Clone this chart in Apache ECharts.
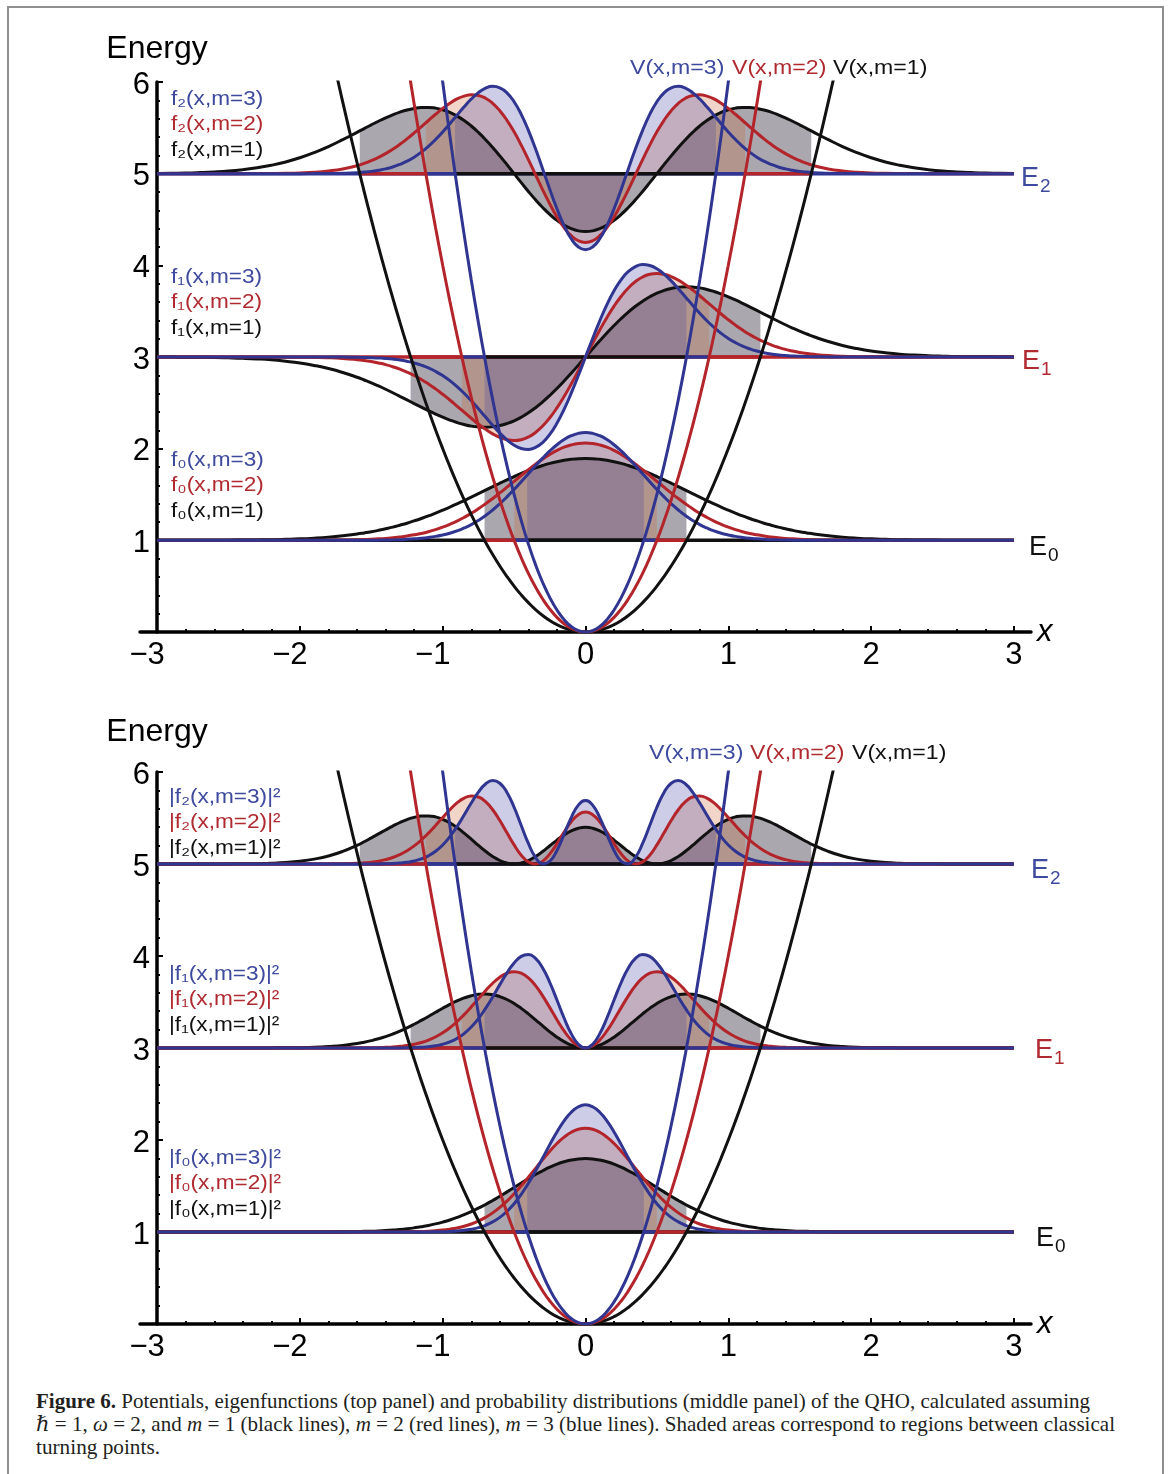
<!DOCTYPE html>
<html>
<head>
<meta charset="utf-8">
<title>QHO potentials and eigenfunctions</title>
<script src="https://cdn.jsdelivr.net/npm/echarts/dist/echarts.min.js"></script>
<style>
  body { margin: 0; background: #fff; }
  .frame { position: absolute; left: 7px; top: 6px; width: 1153px; height: 1500px;
           border: 2px solid #8f8f8f; border-bottom: none; }
  #chart { position: absolute; left: 0; top: 0; width: 1170px; height: 1380px; }
  .caption { position: absolute; left: 36px; top: 1390px; color: #231f20;
             font-family: "Liberation Serif", "DejaVu Serif", serif; font-size: 21px; line-height: 23px; }
  .ln { white-space: nowrap; height: 23px; }
  .ln span { display: inline-block; transform-origin: 0 50%; }
</style>
</head>
<body>
<div class="frame"></div>
<div id="chart"></div>
<div class="caption">
  <div class="ln" data-w="1054"><span><b>Figure 6.</b> Potentials, eigenfunctions (top panel) and probability distributions (middle panel) of the QHO, calculated assuming</span></div>
  <div class="ln" data-w="1079"><span><i>ℏ</i> = 1, <i>ω</i> = 2, and <i>m</i> = 1 (black lines), <i>m</i> = 2 (red lines), <i>m</i> = 3 (blue lines). Shaded areas correspond to regions between classical</span></div>
  <div class="ln" data-w="124"><span>turning points.</span></div>
</div>
<script>
// x grid shared by every curve (finer in the middle where the curves bend)
var xs = [-3,-2.9,-2.8,-2.7,-2.6,-2.5,-2.4,-2.3,-2.2,-2.1,-2,-1.9,-1.8,-1.7,
  -1.6,-1.55,-1.5,-1.45,-1.4,-1.35,-1.3,-1.25,-1.2,-1.15,-1.1,-1.05,-1,-0.95,-0.9,-0.85,
  -0.8,-0.75,-0.7,-0.65,-0.6,-0.55,-0.5,-0.45,-0.4,-0.35,-0.3,-0.25,-0.2,-0.15,-0.1,-0.05,
  0,
  0.05,0.1,0.15,0.2,0.25,0.3,0.35,0.4,0.45,0.5,0.55,0.6,0.65,0.7,0.75,0.8,
  0.85,0.9,0.95,1,1.05,1.1,1.15,1.2,1.25,1.3,1.35,1.4,1.45,1.5,1.55,1.6,
  1.7,1.8,1.9,2,2.1,2.2,2.3,2.4,2.5,2.6,2.7,2.8,2.9,3];

var levels = [1, 3, 5];          // E0, E1, E2
var xTicks = [-3, -2, -1, 0, 1, 2, 3];
var yTicks = [1, 2, 3, 4, 5, 6];

// potentials V(x,m), null where far off the plot
var V1 = [null,null,null,null,null,null,null,null,null,null,null,7.22,6.48,5.78,
  5.12,4.805,4.5,4.205,3.92,3.645,3.38,3.125,2.88,2.645,2.42,2.205,2,1.805,1.62,1.445,
  1.28,1.125,0.98,0.845,0.72,0.605,0.5,0.405,0.32,0.245,0.18,0.125,0.08,0.045,0.02,0.005,
  0,
  0.005,0.02,0.045,0.08,0.125,0.18,0.245,0.32,0.405,0.5,0.605,0.72,0.845,0.98,1.125,1.28,
  1.445,1.62,1.805,2,2.205,2.42,2.645,2.88,3.125,3.38,3.645,3.92,4.205,4.5,4.805,5.12,
  5.78,6.48,7.22,null,null,null,null,null,null,null,null,null,null,null];
var V2 = [null,null,null,null,null,null,null,null,null,null,null,null,null,null,
  null,null,null,null,7.84,7.29,6.76,6.25,5.76,5.29,4.84,4.41,4,3.61,3.24,2.89,
  2.56,2.25,1.96,1.69,1.44,1.21,1,0.81,0.64,0.49,0.36,0.25,0.16,0.09,0.04,0.01,
  0,
  0.01,0.04,0.09,0.16,0.25,0.36,0.49,0.64,0.81,1,1.21,1.44,1.69,1.96,2.25,2.56,
  2.89,3.24,3.61,4,4.41,4.84,5.29,5.76,6.25,6.76,7.29,7.84,null,null,null,null,
  null,null,null,null,null,null,null,null,null,null,null,null,null,null];
var V3 = [null,null,null,null,null,null,null,null,null,null,null,null,null,null,
  null,null,null,null,null,null,null,null,8.64,7.935,7.26,6.615,6,5.415,4.86,4.335,
  3.84,3.375,2.94,2.535,2.16,1.815,1.5,1.215,0.96,0.735,0.54,0.375,0.24,0.135,0.06,0.015,
  0,
  0.015,0.06,0.135,0.24,0.375,0.54,0.735,0.96,1.215,1.5,1.815,2.16,2.535,2.94,3.375,3.84,
  4.335,4.86,5.415,6,6.615,7.26,7.935,8.64,null,null,null,null,null,null,null,null,
  null,null,null,null,null,null,null,null,null,null,null,null,null,null];

// eigenfunctions f_n(x,m), offsets above the level E_n
var f0m1 = [0,0,0,0.001,0.001,0.002,0.003,0.005,0.007,0.011,0.016,0.024,0.035,0.050,
  0.069,0.081,0.094,0.109,0.126,0.144,0.165,0.187,0.212,0.238,0.266,0.297,0.329,0.362,0.397,0.434,
  0.471,0.509,0.547,0.585,0.623,0.660,0.696,0.730,0.761,0.790,0.816,0.839,0.858,0.873,0.884,0.891,
  0.893,
  0.891,0.884,0.873,0.858,0.839,0.816,0.790,0.761,0.730,0.696,0.660,0.623,0.585,0.547,0.509,0.471,
  0.434,0.397,0.362,0.329,0.297,0.266,0.238,0.212,0.187,0.165,0.144,0.126,0.109,0.094,0.081,0.069,
  0.050,0.035,0.024,0.016,0.011,0.007,0.005,0.003,0.002,0.001,0.001,0,0,0];
var f0m2 = [0,0,0,0,0,0,0,0,0,0,0,0.001,0.002,0.003,
  0.006,0.009,0.012,0.016,0.021,0.028,0.036,0.047,0.060,0.075,0.094,0.117,0.144,0.175,0.210,0.250,
  0.295,0.345,0.399,0.456,0.517,0.580,0.644,0.709,0.771,0.831,0.887,0.937,0.981,1.016,1.041,1.057,
  1.062,
  1.057,1.041,1.016,0.981,0.937,0.887,0.831,0.771,0.709,0.644,0.580,0.517,0.456,0.399,0.345,0.295,
  0.250,0.210,0.175,0.144,0.117,0.094,0.075,0.060,0.047,0.036,0.028,0.021,0.016,0.012,0.009,0.006,
  0.003,0.002,0.001,0,0,0,0,0,0,0,0,0,0,0];
var f0m3 = [0,0,0,0,0,0,0,0,0,0,0,0,0,0,
  0,0.001,0.001,0.002,0.003,0.005,0.007,0.011,0.016,0.022,0.031,0.043,0.059,0.078,0.103,0.135,
  0.172,0.217,0.270,0.331,0.399,0.474,0.555,0.640,0.727,0.814,0.897,0.975,1.043,1.099,1.141,1.167,
  1.176,
  1.167,1.141,1.099,1.043,0.975,0.897,0.814,0.727,0.640,0.555,0.474,0.399,0.331,0.270,0.217,0.172,
  0.135,0.103,0.078,0.059,0.043,0.031,0.022,0.016,0.011,0.007,0.005,0.003,0.002,0.001,0.001,0,
  0,0,0,0,0,0,0,0,0,0,0,0,0,0];
var f1m1 = [-0.001,-0.001,-0.002,-0.003,-0.005,-0.009,-0.014,-0.021,-0.031,-0.046,-0.065,-0.092,-0.126,-0.169,
  -0.221,-0.251,-0.282,-0.316,-0.352,-0.390,-0.429,-0.468,-0.508,-0.547,-0.586,-0.623,-0.657,-0.688,-0.715,-0.737,
  -0.754,-0.763,-0.766,-0.761,-0.748,-0.726,-0.696,-0.657,-0.609,-0.553,-0.490,-0.420,-0.343,-0.262,-0.177,-0.089,
  0,
  0.089,0.177,0.262,0.343,0.420,0.490,0.553,0.609,0.657,0.696,0.726,0.748,0.761,0.766,0.763,0.754,
  0.737,0.715,0.688,0.657,0.623,0.586,0.547,0.508,0.468,0.429,0.390,0.352,0.316,0.282,0.251,0.221,
  0.169,0.126,0.092,0.065,0.046,0.031,0.021,0.014,0.009,0.005,0.003,0.002,0.001,0.001];
var f1m2 = [0,0,0,0,0,0,0,0,0,-0.001,-0.002,-0.004,-0.008,-0.016,
  -0.029,-0.038,-0.050,-0.065,-0.083,-0.106,-0.133,-0.165,-0.202,-0.245,-0.294,-0.348,-0.407,-0.469,-0.535,-0.602,
  -0.668,-0.732,-0.789,-0.839,-0.877,-0.902,-0.911,-0.902,-0.873,-0.823,-0.753,-0.663,-0.555,-0.431,-0.295,-0.149,
  0,
  0.149,0.295,0.431,0.555,0.663,0.753,0.823,0.873,0.902,0.911,0.902,0.877,0.839,0.789,0.732,0.668,
  0.602,0.535,0.469,0.407,0.348,0.294,0.245,0.202,0.165,0.133,0.106,0.083,0.065,0.050,0.038,0.029,
  0.016,0.008,0.004,0.002,0.001,0,0,0,0,0,0,0,0,0];
var f1m3 = [0,0,0,0,0,0,0,0,0,0,0,0,0,-0.001,
  -0.003,-0.005,-0.007,-0.011,-0.016,-0.023,-0.033,-0.047,-0.065,-0.089,-0.119,-0.157,-0.203,-0.258,-0.323,-0.396,
  -0.478,-0.565,-0.655,-0.745,-0.830,-0.904,-0.962,-0.998,-1.008,-0.987,-0.933,-0.844,-0.722,-0.571,-0.395,-0.202,
  0,
  0.202,0.395,0.571,0.722,0.844,0.933,0.987,1.008,0.998,0.962,0.904,0.830,0.745,0.655,0.565,0.478,
  0.396,0.323,0.258,0.203,0.157,0.119,0.089,0.065,0.047,0.033,0.023,0.016,0.011,0.007,0.005,0.003,
  0.001,0,0,0,0,0,0,0,0,0,0,0,0,0];
var f2m1 = [0.003,0.005,0.007,0.012,0.019,0.029,0.044,0.064,0.092,0.128,0.174,0.230,0.296,0.371,
  0.451,0.492,0.533,0.572,0.609,0.642,0.671,0.695,0.712,0.722,0.723,0.715,0.697,0.669,0.629,0.580,
  0.520,0.450,0.371,0.286,0.194,0.098,0,-0.098,-0.194,-0.285,-0.369,-0.445,-0.510,-0.562,-0.600,-0.624,
  -0.632,
  -0.624,-0.600,-0.562,-0.510,-0.445,-0.369,-0.285,-0.194,-0.098,0,0.098,0.194,0.286,0.371,0.450,0.520,
  0.580,0.629,0.669,0.697,0.715,0.723,0.722,0.712,0.695,0.671,0.642,0.609,0.572,0.533,0.492,0.451,
  0.371,0.296,0.230,0.174,0.128,0.092,0.064,0.044,0.029,0.019,0.012,0.007,0.005,0.003];
var f2m2 = [0,0,0,0,0,0,0,0.001,0.002,0.004,0.008,0.015,0.029,0.051,
  0.087,0.112,0.142,0.177,0.219,0.266,0.320,0.380,0.444,0.511,0.580,0.648,0.712,0.768,0.815,0.846,
  0.860,0.853,0.823,0.768,0.687,0.582,0.456,0.311,0.153,-0.012,-0.176,-0.331,-0.472,-0.589,-0.677,-0.732,
  -0.751,
  -0.732,-0.677,-0.589,-0.472,-0.331,-0.176,-0.012,0.153,0.311,0.456,0.582,0.687,0.768,0.823,0.853,0.860,
  0.846,0.815,0.768,0.712,0.648,0.580,0.511,0.444,0.380,0.320,0.266,0.219,0.177,0.142,0.112,0.087,
  0.051,0.029,0.015,0.008,0.004,0.002,0.001,0,0,0,0,0,0,0];
var f2m3 = [0,0,0,0,0,0,0,0,0,0,0,0.001,0.002,0.005,
  0.011,0.017,0.025,0.037,0.052,0.073,0.101,0.136,0.180,0.234,0.298,0.372,0.455,0.545,0.638,0.730,
  0.814,0.884,0.933,0.953,0.937,0.882,0.785,0.647,0.473,0.271,0.051,-0.172,-0.383,-0.567,-0.710,-0.800,
  -0.831,
  -0.800,-0.710,-0.567,-0.383,-0.172,0.051,0.271,0.473,0.647,0.785,0.882,0.937,0.953,0.933,0.884,0.814,
  0.730,0.638,0.545,0.455,0.372,0.298,0.234,0.180,0.136,0.101,0.073,0.052,0.037,0.025,0.017,0.011,
  0.005,0.002,0.001,0,0,0,0,0,0,0,0,0,0,0];

// probability densities |f_n(x,m)|^2, offsets above E_n
var p0m1 = [0,0,0,0,0,0,0,0,0,0,0,0.001,0.001,0.002,
  0.005,0.007,0.009,0.012,0.016,0.021,0.027,0.035,0.045,0.057,0.071,0.088,0.108,0.131,0.158,0.188,
  0.222,0.259,0.299,0.343,0.388,0.436,0.484,0.532,0.579,0.625,0.666,0.704,0.737,0.763,0.782,0.794,
  0.798,
  0.794,0.782,0.763,0.737,0.704,0.666,0.625,0.579,0.532,0.484,0.436,0.388,0.343,0.299,0.259,0.222,
  0.188,0.158,0.131,0.108,0.088,0.071,0.057,0.045,0.035,0.027,0.021,0.016,0.012,0.009,0.007,0.005,
  0.002,0.001,0.001,0,0,0,0,0,0,0,0,0,0,0];
var p0m2 = [0,0,0,0,0,0,0,0,0,0,0,0,0,0,
  0,0,0,0,0,0.001,0.001,0.002,0.004,0.006,0.009,0.014,0.021,0.031,0.044,0.063,
  0.087,0.119,0.159,0.208,0.267,0.336,0.415,0.502,0.595,0.691,0.787,0.879,0.962,1.031,1.084,1.117,
  1.128,
  1.117,1.084,1.031,0.962,0.879,0.787,0.691,0.595,0.502,0.415,0.336,0.267,0.208,0.159,0.119,0.087,
  0.063,0.044,0.031,0.021,0.014,0.009,0.006,0.004,0.002,0.001,0.001,0,0,0,0,0,
  0,0,0,0,0,0,0,0,0,0,0,0,0,0];
var p0m3 = [0,0,0,0,0,0,0,0,0,0,0,0,0,0,
  0,0,0,0,0,0,0,0,0,0,0.001,0.002,0.003,0.006,0.011,0.018,
  0.030,0.047,0.073,0.110,0.159,0.225,0.308,0.410,0.529,0.663,0.805,0.950,1.087,1.207,1.302,1.361,
  1.382,
  1.361,1.302,1.207,1.087,0.950,0.805,0.663,0.529,0.410,0.308,0.225,0.159,0.110,0.073,0.047,0.030,
  0.018,0.011,0.006,0.003,0.002,0.001,0,0,0,0,0,0,0,0,0,0,
  0,0,0,0,0,0,0,0,0,0,0,0,0,0];
var p1m1 = [0,0,0,0,0,0,0,0,0.001,0.002,0.004,0.008,0.016,0.028,
  0.049,0.063,0.080,0.100,0.124,0.152,0.184,0.219,0.258,0.300,0.343,0.388,0.432,0.474,0.512,0.544,
  0.568,0.583,0.587,0.579,0.559,0.527,0.484,0.431,0.371,0.306,0.240,0.176,0.118,0.069,0.031,0.008,
  0,
  0.008,0.031,0.069,0.118,0.176,0.240,0.306,0.371,0.431,0.484,0.527,0.559,0.579,0.587,0.583,0.568,
  0.544,0.512,0.474,0.432,0.388,0.343,0.300,0.258,0.219,0.184,0.152,0.124,0.100,0.080,0.063,0.049,
  0.028,0.016,0.008,0.004,0.002,0.001,0,0,0,0,0,0,0,0];
var p1m2 = [0,0,0,0,0,0,0,0,0,0,0,0,0,0,
  0.001,0.001,0.003,0.004,0.007,0.011,0.018,0.027,0.041,0.060,0.086,0.121,0.165,0.220,0.286,0.363,
  0.447,0.535,0.623,0.704,0.770,0.814,0.830,0.813,0.762,0.678,0.567,0.439,0.308,0.186,0.087,0.022,
  0,
  0.022,0.087,0.186,0.308,0.439,0.567,0.678,0.762,0.813,0.830,0.814,0.770,0.704,0.623,0.535,0.447,
  0.363,0.286,0.220,0.165,0.121,0.086,0.060,0.041,0.027,0.018,0.011,0.007,0.004,0.003,0.001,0.001,
  0,0,0,0,0,0,0,0,0,0,0,0,0,0];
var p1m3 = [0,0,0,0,0,0,0,0,0,0,0,0,0,0,
  0,0,0,0,0,0.001,0.001,0.002,0.004,0.008,0.014,0.025,0.041,0.067,0.104,0.157,
  0.228,0.319,0.430,0.555,0.689,0.817,0.925,0.996,1.016,0.974,0.870,0.712,0.522,0.326,0.156,0.041,
  0,
  0.041,0.156,0.326,0.522,0.712,0.870,0.974,1.016,0.996,0.925,0.817,0.689,0.555,0.430,0.319,0.228,
  0.157,0.104,0.067,0.041,0.025,0.014,0.008,0.004,0.002,0.001,0.001,0,0,0,0,0,
  0,0,0,0,0,0,0,0,0,0,0,0,0,0];
var p2m1 = [0,0,0,0,0,0.001,0.002,0.004,0.008,0.016,0.030,0.053,0.087,0.137,
  0.203,0.242,0.284,0.327,0.370,0.412,0.451,0.483,0.507,0.521,0.523,0.512,0.486,0.447,0.396,0.336,
  0.270,0.202,0.138,0.082,0.038,0.010,0,0.010,0.038,0.081,0.136,0.198,0.260,0.316,0.360,0.389,
  0.399,
  0.389,0.360,0.316,0.260,0.198,0.136,0.081,0.038,0.010,0,0.010,0.038,0.082,0.138,0.202,0.270,
  0.336,0.396,0.447,0.486,0.512,0.523,0.521,0.507,0.483,0.451,0.412,0.370,0.327,0.284,0.242,0.203,
  0.137,0.087,0.053,0.030,0.016,0.008,0.004,0.002,0.001,0,0,0,0,0];
var p2m2 = [0,0,0,0,0,0,0,0,0,0,0,0,0.001,0.003,
  0.008,0.013,0.020,0.031,0.048,0.071,0.103,0.144,0.197,0.261,0.336,0.419,0.506,0.590,0.664,0.716,
  0.740,0.728,0.678,0.590,0.473,0.339,0.208,0.096,0.023,0,0.031,0.110,0.222,0.347,0.459,0.536,
  0.564,
  0.536,0.459,0.347,0.222,0.110,0.031,0,0.023,0.096,0.208,0.339,0.473,0.590,0.678,0.728,0.740,
  0.716,0.664,0.590,0.506,0.419,0.336,0.261,0.197,0.144,0.103,0.071,0.048,0.031,0.020,0.013,0.008,
  0.003,0.001,0,0,0,0,0,0,0,0,0,0,0,0];
var p2m3 = [0,0,0,0,0,0,0,0,0,0,0,0,0,0,
  0,0,0.001,0.001,0.003,0.005,0.010,0.018,0.032,0.055,0.089,0.139,0.207,0.297,0.407,0.533,
  0.663,0.782,0.870,0.907,0.878,0.778,0.617,0.419,0.224,0.073,0.003,0.030,0.147,0.322,0.504,0.640,
  0.691,
  0.640,0.504,0.322,0.147,0.030,0.003,0.073,0.224,0.419,0.617,0.778,0.878,0.907,0.870,0.782,0.663,
  0.533,0.407,0.297,0.207,0.139,0.089,0.055,0.032,0.018,0.010,0.005,0.003,0.001,0.001,0,0,
  0,0,0,0,0,0,0,0,0,0,0,0,0,0];

// classical turning points x_t[n][m-1] and curve values there
var turnX = [[0.707, 0.5, 0.408], [1.225, 0.866, 0.707], [1.581, 1.118, 0.913]];
var edgeF = [[0.542, 0.644, 0.713], [0.488, 0.581, 0.643], [0.467, 0.555, 0.614]];
var edgeP = [[0.294, 0.415, 0.508], [0.238, 0.337, 0.413], [0.218, 0.308, 0.377]];

var topSets = [[f0m1, f0m2, f0m3], [f1m1, f1m2, f1m3], [f2m1, f2m2, f2m3]];
var botSets = [[p0m1, p0m2, p0m3], [p1m1, p1m2, p1m3], [p2m1, p2m2, p2m3]];
var potentials = [V1, V2, V3];

var LINE = ['#111111', '#b3242b', '#2f3590'];
var TEXT = ['#111111', '#b02a30', '#3d4a9e'];
var FILL = ['rgba(25,20,35,0.37)', 'rgba(200,100,50,0.27)', 'rgba(56,56,164,0.25)'];
var LEVEL = ['#111111', '#b3242b', '#2f3590'];
var FONT = 'Liberation Sans, Arial, sans-serif';

var minorX = [], minorY = [];
for (var k = -15; k <= 15; k++) minorX.push(k / 5);
for (var k2 = 0; k2 <= 30; k2++) minorY.push(k2 / 5);

function curve(vals, base) {
  var out = [];
  for (var i = 0; i < xs.length; i++) {
    if (vals[i] !== null) out.push([xs[i], base + vals[i]]);
  }
  return out;
}

function fillPoints(vals, base, xt, left, right) {
  var out = [[-xt, base + left]];
  for (var i = 0; i < xs.length; i++) {
    if (xs[i] > -xt + 0.01 && xs[i] < xt - 0.01) out.push([xs[i], base + vals[i]]);
  }
  out.push([xt, base + right]);
  return out;
}

function lineSeries(ax, data, color, width, extra) {
  var s = {
    type: 'line', xAxisIndex: ax, yAxisIndex: ax, data: data,
    symbol: 'none', silent: true, animation: false,
    lineStyle: { color: color, width: width }
  };
  for (var key in extra) s[key] = extra[key];
  return s;
}

function panelSeries(p, sets, edges, signed) {
  var ax = 2 * p, s = [], n, m;
  // shaded regions between the turning points
  for (n = 0; n < 3; n++) {
    for (m = 0; m < 3; m++) {
      var e = edges[n][m];
      var leftE = (signed && n === 1) ? -e : e;
      s.push(lineSeries(ax, fillPoints(sets[n][m], levels[n], turnX[n][m], leftE, e), LINE[m], 0, {
        smooth: true,
        lineStyle: { width: 0, opacity: 0 },
        areaStyle: { color: FILL[m], opacity: 1, origin: levels[n] }
      }));
    }
  }
  // energy levels
  for (n = 0; n < 3; n++) {
    var E = levels[n], t = turnX[n];
    s.push(lineSeries(ax, [[xs[0], E], [xs[xs.length - 1], E]], LEVEL[n], 3.5));
    [[-t[0], -t[1], 1], [t[1], t[0], 1], [-t[1], -t[2], 2], [t[2], t[1], 2], [-t[2], t[2], 0]].forEach(function (g) {
      s.push(lineSeries(ax, [[g[0], E], [g[1], E]], LINE[g[2]], 3.5));
    });
  }
  // eigenfunction / density curves
  for (m = 0; m < 3; m++) {
    for (n = 0; n < 3; n++) {
      s.push(lineSeries(ax, curve(sets[n][m], levels[n]), LINE[m], 3, { smooth: true }));
    }
  }
  // potentials
  for (m = 0; m < 3; m++) {
    s.push(lineSeries(ax, curve(potentials[m], 0), LINE[m], 3, { smooth: true }));
  }
  return s;
}

function fmtX(v) {
  return v < 0 ? '{n|\u2212' + (-v) + '}' : '{p|' + v + '}';
}

function xAxes(p) {
  return [{
    gridIndex: p, type: 'value', min: -3.12, max: 3.12, position: 'bottom',
    axisLine: { show: true, onZero: false, lineStyle: { color: '#000', width: 3.5 } },
    axisTick: { show: true, inside: true, length: 3, customValues: minorX, lineStyle: { color: '#000', width: 2 } },
    axisLabel: {
      customValues: xTicks, formatter: fmtX, margin: 8,
      rich: {
        n: { fontSize: 31, fontFamily: FONT, color: '#000', padding: [0, 20, 0, 0] },
        p: { fontSize: 31, fontFamily: FONT, color: '#000' }
      }
    },
    splitLine: { show: false },
    name: 'x', nameLocation: 'end', nameGap: 6,
    nameTextStyle: { fontSize: 31, fontStyle: 'italic', fontFamily: FONT, color: '#000' }
  }, {
    gridIndex: p, type: 'value', min: -3.12, max: 3.12, position: 'bottom',
    axisLine: { show: false, onZero: false },
    axisTick: { show: true, inside: true, length: 6, customValues: xTicks, lineStyle: { color: '#000', width: 2 } },
    axisLabel: { show: false },
    splitLine: { show: false }
  }];
}

function yAxes(p, gap) {
  return [{
    gridIndex: p, type: 'value', min: 0, max: 6, position: 'left', offset: -17,
    axisLine: { show: true, onZero: false, lineStyle: { color: '#000', width: 3.5 } },
    axisTick: { show: true, inside: true, length: 3, customValues: minorY, lineStyle: { color: '#000', width: 2 } },
    axisLabel: {
      customValues: yTicks, margin: 7,
      formatter: function (v) { return '{a|' + v + '}'; },
      rich: { a: { fontSize: 31, fontFamily: FONT, color: '#000', padding: [6, 0, 0, 0] } }
    },
    splitLine: { show: false },
    name: 'Energy', nameLocation: 'end', nameGap: gap,
    nameTextStyle: { fontSize: 32, fontFamily: FONT, color: '#000', align: 'center' }
  }, {
    gridIndex: p, type: 'value', min: 0, max: 6, position: 'left', offset: -17,
    axisLine: { show: false, onZero: false },
    axisTick: { show: true, inside: true, length: 6, customValues: [0, 1, 2, 3, 4, 5, 6], lineStyle: { color: '#000', width: 2 } },
    axisLabel: { show: false },
    splitLine: { show: false }
  }];
}

function txt(x, y, text, fill, size, sx) {
  return {
    type: 'text', x: x, y: y, z: 100, scaleX: sx || 1,
    style: { text: text, fill: fill, fontSize: size, fontFamily: FONT, align: 'left', verticalAlign: 'middle' }
  };
}

var SUB = ['\u2080', '\u2081', '\u2082'];
var graphics = [];
// function labels: [panel, n, y of first line]
var labelRows = [[0, 2, 97], [0, 1, 275], [0, 0, 458], [1, 2, 795], [1, 1, 972], [1, 0, 1156]];
labelRows.forEach(function (r) {
  for (var j = 0; j < 3; j++) {
    var m = 3 - j;
    var body = 'f' + SUB[r[1]] + '(x,m=' + m + ')';
    var text = r[0] === 0 ? body : '|' + body + '|\u00b2';
    graphics.push(txt(r[0] === 0 ? 171 : 169, r[2] + 2 + j * 25.5, text, TEXT[m - 1], 20, 1.13));
  }
});
// potential labels
[[66, [630, 732, 833]], [751, [649, 750, 852]]].forEach(function (r) {
  for (var j = 0; j < 3; j++) {
    var m = 3 - j;
    graphics.push(txt(r[1][j], r[0] + 2, 'V(x,m=' + m + ')', TEXT[m - 1], 21, 1.1));
  }
});
// energy level labels: [x of E, y centre, level]
[[1021, 177, 2], [1022, 360, 1], [1029, 546, 0], [1031, 869, 2], [1035, 1049, 1], [1036, 1237, 0]].forEach(function (r) {
  graphics.push(txt(r[0], r[1] + 2, 'E', TEXT[r[2]], 27));
  graphics.push(txt(r[0] + 19, r[1] + 10, String(r[2]), TEXT[r[2]], 19));
});

var chart = echarts.init(document.getElementById('chart'));
chart.setOption({
  animation: false,
  grid: [
    { left: 140, top: 82, width: 891, height: 550, outerBoundsMode: 'none' },
    { left: 140, top: 772, width: 891, height: 552, outerBoundsMode: 'none' }
  ],
  xAxis: xAxes(0).concat(xAxes(1)),
  yAxis: yAxes(0, 17).concat(yAxes(1, 24)),
  series: panelSeries(0, topSets, edgeF, true).concat(panelSeries(1, botSets, edgeP, false)),
  graphic: graphics
});

// fit caption lines to the widths of the original typesetting
document.querySelectorAll('.ln').forEach(function (ln) {
  var sp = ln.querySelector('span');
  var w = sp.getBoundingClientRect().width;
  sp.style.transform = 'scaleX(' + (+ln.getAttribute('data-w') / w) + ')';
});
</script>
</body>
</html>
